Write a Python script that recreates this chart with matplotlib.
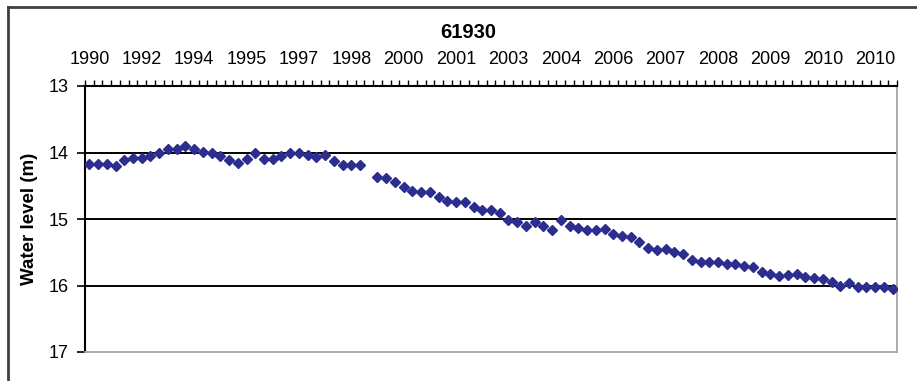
import numpy as np
import matplotlib
matplotlib.use("Agg")
import matplotlib.pyplot as plt
from matplotlib.lines import Line2D

plt.rcParams["font.family"] = ["Liberation Sans", "DejaVu Sans"]

TITLE = "61930"
Y_LABEL = "Water level (m)"

# water level below ground (m), one value per measurement, NaN = missing
WATER_LEVEL = [
    14.18, 14.18, 14.18, 14.20, 14.12, 14.09, 14.08, 14.06, 14.01, 13.95,
    13.95, 13.90, 13.95, 13.99, 14.01, 14.05, 14.11, 14.16, 14.10, 14.00,
    14.10, 14.10, 14.05, 14.00, 14.01, 14.04, 14.07, 14.04, 14.13, 14.19,
    14.19, 14.19, np.nan, 14.37, 14.39, 14.44, 14.52, 14.58, 14.59, 14.60,
    14.67, 14.73, 14.74, 14.75, 14.82, 14.87, 14.87, 14.91, 15.02, 15.05,
    15.10, 15.04, 15.10, 15.17, 15.02, 15.10, 15.13, 15.16, 15.17, 15.15,
    15.22, 15.25, 15.27, 15.34, 15.43, 15.46, 15.45, 15.49, 15.53, 15.62,
    15.65, 15.65, 15.65, 15.67, 15.68, 15.70, 15.72, 15.79, 15.83, 15.85,
    15.84, 15.83, 15.87, 15.89, 15.90, 15.95, 16.00, 15.96, 16.02, 16.03,
    16.03, 16.03, 16.05,
]

# category labels shown every 6th measurement
LABEL_EVERY = 6
TICK_LABELS = ["1990", "1992", "1994", "1995", "1997", "1998", "2000", "2001",
               "2003", "2004", "2006", "2007", "2008", "2009", "2010", "2010"]

Y_TICKS = [13, 14, 15, 16, 17]
GRID_LEVELS = [14, 15, 16]

C_MARK = "#2B2E8E"

fig = plt.figure(figsize=(9.17, 3.81), dpi=100)
ax = fig.add_axes([85 / 917, 1 - 352 / 381, 812 / 917, 266 / 381])

n = len(WATER_LEVEL)
x = np.arange(n)
ax.plot(x, WATER_LEVEL, ls="none", marker="D", ms=5.5, color=C_MARK,
        mec=C_MARK, zorder=3)

ax.hlines(GRID_LEVELS, -0.5, n - 0.5, color="black", lw=1.4, zorder=1)

ax.set_xlim(-0.5, n - 0.5)
ax.set_ylim(Y_TICKS[-1], Y_TICKS[0])
ax.set_yticks(Y_TICKS)

# labels at category centres, small tick marks between categories
ax.set_xticks(x[::LABEL_EVERY][:len(TICK_LABELS)])
ax.set_xticklabels(TICK_LABELS)
ax.set_xticks(np.arange(-0.5, n, 1.0), minor=True)
ax.xaxis.tick_top()
ax.tick_params(axis="x", which="major", length=0, pad=13, labelsize=13)
ax.tick_params(axis="x", which="minor", length=4, width=1, color="black",
               direction="out")
ax.tick_params(axis="y", which="major", length=6, width=1.2, pad=6,
               labelsize=13, direction="out")

for side in ("top", "left"):
    ax.spines[side].set_color("black")
    ax.spines[side].set_linewidth(1.5)
for side in ("right", "bottom"):
    ax.spines[side].set_color("#a6a6a6")
    ax.spines[side].set_linewidth(1.3)

ax.set_ylabel(Y_LABEL, fontsize=13.5, fontweight="bold", labelpad=7)
fig.text(468 / 917, 1 - 33 / 381, TITLE, ha="center", va="center",
         fontsize=14.5, fontweight="bold")

# outer chart frame (cropped on the right and bottom)
fig.add_artist(Line2D([8 / 917, 1], [1 - 7 / 381, 1 - 7 / 381],
                      color="#404040", lw=2))
fig.add_artist(Line2D([8 / 917, 8 / 917], [0, 1 - 7 / 381],
                      color="#404040", lw=2))

fig.savefig("out.png", dpi=100)
